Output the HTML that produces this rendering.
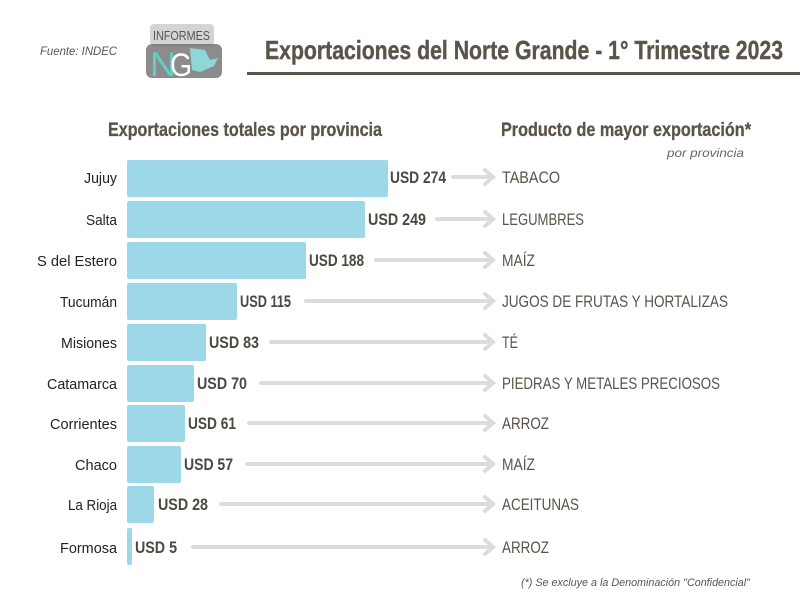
<!DOCTYPE html>
<html><head><meta charset="utf-8"><style>
html,body{margin:0;padding:0;background:#fff;}
svg{display:block;}
</style></head><body>
<svg width="800" height="600" xmlns="http://www.w3.org/2000/svg" font-family="Liberation Sans, sans-serif">
<rect width="800" height="600" fill="#fff"/>
<text x="40" y="55" font-size="12" font-style="italic" fill="#555" textLength="77" lengthAdjust="spacingAndGlyphs">Fuente: INDEC</text>
<rect x="150" y="24" width="64" height="22" rx="4" fill="#d4d4d4"/>
<text x="153" y="40" font-size="13" fill="#555" textLength="57" lengthAdjust="spacingAndGlyphs">INFORMES</text>
<rect x="146" y="44" width="76" height="34" rx="6" fill="#666" opacity="0.75"/>
<text x="150" y="76" font-size="34" fill="#5fd0c8" textLength="26" lengthAdjust="spacingAndGlyphs">N</text>
<text x="170" y="76" font-size="32" fill="#fff" textLength="22" lengthAdjust="spacingAndGlyphs">G</text>
<polygon points="190,48 205,50 210,60 218,58 214,66 200,72 192,70" fill="#8fd6d6"/>
<text x="265" y="59" font-size="26" font-weight="bold" fill="#5a5449" stroke="#5a5449" stroke-width="0.4" textLength="518" lengthAdjust="spacingAndGlyphs">Exportaciones del Norte Grande - 1° Trimestre 2023</text>
<rect x="247" y="72" width="553" height="3" fill="#5a5449"/>
<text x="108" y="136" font-size="19" font-weight="bold" fill="#5a5449" stroke="#5a5449" stroke-width="0.3" textLength="274" lengthAdjust="spacingAndGlyphs">Exportaciones totales por provincia</text>
<text x="501" y="136" font-size="19" font-weight="bold" fill="#5a5449" stroke="#5a5449" stroke-width="0.3" textLength="250" lengthAdjust="spacingAndGlyphs">Producto de mayor exportación*</text>
<text x="667" y="157" font-size="12" font-style="italic" fill="#666" textLength="77" lengthAdjust="spacingAndGlyphs">por provincia</text>
<g fill="#9dd8e8">
<rect x="127" y="160" width="261" height="37" rx="2"/>
<rect x="127" y="201" width="238" height="37" rx="2"/>
<rect x="127" y="242" width="179" height="37" rx="2"/>
<rect x="127" y="283" width="110" height="37" rx="2"/>
<rect x="127" y="324" width="79" height="37" rx="2"/>
<rect x="127" y="365" width="67" height="37" rx="2"/>
<rect x="127" y="405" width="58" height="37" rx="2"/>
<rect x="127" y="446" width="54" height="37" rx="2"/>
<rect x="127" y="486" width="27" height="37" rx="2"/>
<rect x="127" y="528" width="5" height="37" rx="2"/>
</g>
<g font-size="15" fill="#222" text-anchor="end">
<text x="117" y="183" textLength="33" lengthAdjust="spacingAndGlyphs">Jujuy</text>
<text x="117" y="225" textLength="31" lengthAdjust="spacingAndGlyphs">Salta</text>
<text x="117" y="266" textLength="80" lengthAdjust="spacingAndGlyphs">S del Estero</text>
<text x="117" y="307" textLength="57" lengthAdjust="spacingAndGlyphs">Tucumán</text>
<text x="117" y="348" textLength="56" lengthAdjust="spacingAndGlyphs">Misiones</text>
<text x="117" y="389" textLength="70" lengthAdjust="spacingAndGlyphs">Catamarca</text>
<text x="117" y="429" textLength="67" lengthAdjust="spacingAndGlyphs">Corrientes</text>
<text x="117" y="470" textLength="42" lengthAdjust="spacingAndGlyphs">Chaco</text>
<text x="117" y="510" textLength="49" lengthAdjust="spacingAndGlyphs">La Rioja</text>
<text x="117" y="553" textLength="57" lengthAdjust="spacingAndGlyphs">Formosa</text>
</g>
<g font-size="17" font-weight="bold" fill="#4d4840">
<text x="390" y="183" textLength="56" lengthAdjust="spacingAndGlyphs">USD 274</text>
<text x="368" y="225" textLength="58" lengthAdjust="spacingAndGlyphs">USD 249</text>
<text x="309" y="266" textLength="55" lengthAdjust="spacingAndGlyphs">USD 188</text>
<text x="240" y="307" textLength="51" lengthAdjust="spacingAndGlyphs">USD 115</text>
<text x="209" y="348" textLength="50" lengthAdjust="spacingAndGlyphs">USD 83</text>
<text x="197" y="389" textLength="50" lengthAdjust="spacingAndGlyphs">USD 70</text>
<text x="188" y="429" textLength="48" lengthAdjust="spacingAndGlyphs">USD 61</text>
<text x="184" y="470" textLength="49" lengthAdjust="spacingAndGlyphs">USD 57</text>
<text x="158" y="510" textLength="50" lengthAdjust="spacingAndGlyphs">USD 28</text>
<text x="135" y="553" textLength="42" lengthAdjust="spacingAndGlyphs">USD 5</text>
</g>
<g stroke="#dcdcdc" stroke-width="4" fill="none" stroke-linecap="round">
<path d="M453 177H491M485 170L493 177L485 184"/>
<path d="M437 219H491M485 212L493 219L485 226"/>
<path d="M376 260H491M485 253L493 260L485 267"/>
<path d="M306 301H491M485 294L493 301L485 308"/>
<path d="M271 342H491M485 335L493 342L485 349"/>
<path d="M261 383H491M485 376L493 383L485 390"/>
<path d="M249 423H491M485 416L493 423L485 430"/>
<path d="M247 464H491M485 457L493 464L485 471"/>
<path d="M221 504H491M485 497L493 504L485 511"/>
<path d="M193 547H491M485 540L493 547L485 554"/>
</g>
<g font-size="17" fill="#5a5449">
<text x="502" y="183" textLength="58" lengthAdjust="spacingAndGlyphs">TABACO</text>
<text x="502" y="225" textLength="82" lengthAdjust="spacingAndGlyphs">LEGUMBRES</text>
<text x="502" y="266" textLength="33" lengthAdjust="spacingAndGlyphs">MAÍZ</text>
<text x="502" y="307" textLength="226" lengthAdjust="spacingAndGlyphs">JUGOS DE FRUTAS Y HORTALIZAS</text>
<text x="502" y="348" textLength="16" lengthAdjust="spacingAndGlyphs">TÉ</text>
<text x="502" y="389" textLength="218" lengthAdjust="spacingAndGlyphs">PIEDRAS Y METALES PRECIOSOS</text>
<text x="502" y="429" textLength="47" lengthAdjust="spacingAndGlyphs">ARROZ</text>
<text x="502" y="470" textLength="33" lengthAdjust="spacingAndGlyphs">MAÍZ</text>
<text x="502" y="510" textLength="77" lengthAdjust="spacingAndGlyphs">ACEITUNAS</text>
<text x="502" y="553" textLength="47" lengthAdjust="spacingAndGlyphs">ARROZ</text>
</g>
<text x="521" y="586" font-size="11" font-style="italic" fill="#555" textLength="229" lengthAdjust="spacingAndGlyphs">(*) Se excluye a la Denominación "Confidencial"</text>
</svg>
</body></html>
